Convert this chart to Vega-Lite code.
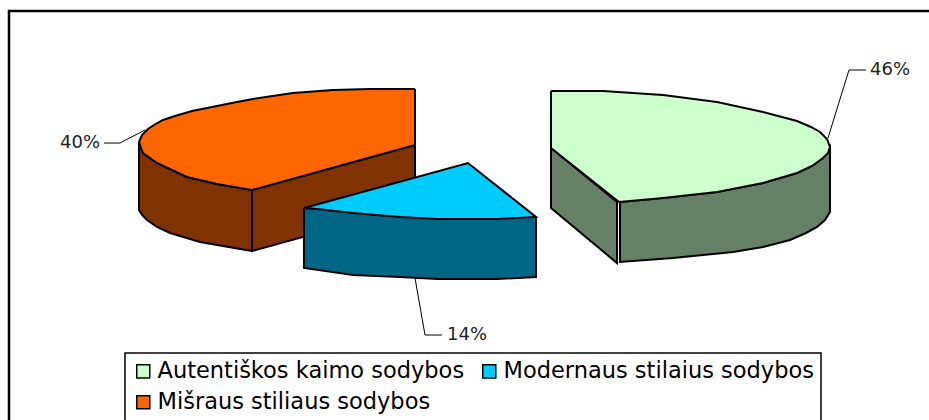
{
"$schema":"https://vega.github.io/schema/vega-lite/v6.json",
"width":929,"height":420,"padding":0,"autosize":{"type":"none"},
"background":"white",
"view":{"stroke":null},
"config":{"legend":{"strokeWidth":1.5}},
"datasets":{
"frame":[{"o":0,"px":9,"py":420},{"o":1,"px":9,"py":11},{"o":2,"px":929,"py":11}],
"sides":[
{"slice":"orange1","shade":"orange","o":0,"px":139,"py":142},{"slice":"orange1","shade":"orange","o":1,"px":139,"py":210},{"slice":"orange1","shade":"orange","o":2,"px":142,"py":215},{"slice":"orange1","shade":"orange","o":3,"px":147,"py":220},{"slice":"orange1","shade":"orange","o":4,"px":157,"py":227},{"slice":"orange1","shade":"orange","o":5,"px":170,"py":233},{"slice":"orange1","shade":"orange","o":6,"px":200,"py":242},{"slice":"orange1","shade":"orange","o":7,"px":252,"py":251},{"slice":"orange1","shade":"orange","o":8,"px":252,"py":190},{"slice":"orange1","shade":"orange","o":9,"px":217,"py":184},{"slice":"orange1","shade":"orange","o":10,"px":187,"py":177},{"slice":"orange1","shade":"orange","o":11,"px":157,"py":163},{"slice":"orange1","shade":"orange","o":12,"px":143,"py":153},{"slice":"orange1","shade":"orange","o":13,"px":139,"py":142},
{"slice":"orange2","shade":"orange","o":0,"px":252,"py":190},{"slice":"orange2","shade":"orange","o":1,"px":415,"py":145},{"slice":"orange2","shade":"orange","o":2,"px":415,"py":206},{"slice":"orange2","shade":"orange","o":3,"px":252,"py":251},{"slice":"orange2","shade":"orange","o":4,"px":252,"py":190},
{"slice":"green1","shade":"green","o":0,"px":551,"py":148},{"slice":"green1","shade":"green","o":1,"px":617,"py":202},{"slice":"green1","shade":"green","o":2,"px":617,"py":263},{"slice":"green1","shade":"green","o":3,"px":551,"py":208},{"slice":"green1","shade":"green","o":4,"px":551,"py":148},
{"slice":"green2","shade":"green","o":0,"px":620,"py":202},{"slice":"green2","shade":"green","o":1,"px":663,"py":198},{"slice":"green2","shade":"green","o":2,"px":717,"py":192},{"slice":"green2","shade":"green","o":3,"px":763,"py":183},{"slice":"green2","shade":"green","o":4,"px":797,"py":173},{"slice":"green2","shade":"green","o":5,"px":812,"py":166},{"slice":"green2","shade":"green","o":6,"px":823,"py":158},{"slice":"green2","shade":"green","o":7,"px":830,"py":147},{"slice":"green2","shade":"green","o":8,"px":830,"py":212},{"slice":"green2","shade":"green","o":9,"px":825,"py":220},{"slice":"green2","shade":"green","o":10,"px":817,"py":227},{"slice":"green2","shade":"green","o":11,"px":806,"py":233},{"slice":"green2","shade":"green","o":12,"px":790,"py":240},{"slice":"green2","shade":"green","o":13,"px":763,"py":247},{"slice":"green2","shade":"green","o":14,"px":733,"py":252},{"slice":"green2","shade":"green","o":15,"px":673,"py":258},{"slice":"green2","shade":"green","o":16,"px":620,"py":262},{"slice":"green2","shade":"green","o":17,"px":620,"py":202},
{"slice":"blue1","shade":"blue","o":0,"px":304,"py":208},{"slice":"blue1","shade":"blue","o":1,"px":304,"py":268},{"slice":"blue1","shade":"blue","o":2,"px":353,"py":275},{"slice":"blue1","shade":"blue","o":3,"px":400,"py":277},{"slice":"blue1","shade":"blue","o":4,"px":438,"py":279},{"slice":"blue1","shade":"blue","o":5,"px":497,"py":279},{"slice":"blue1","shade":"blue","o":6,"px":536,"py":277},{"slice":"blue1","shade":"blue","o":7,"px":536,"py":217},{"slice":"blue1","shade":"blue","o":8,"px":304,"py":208}
],
"tops":[
{"series":"Autentiškos kaimo sodybos","o":0,"px":551,"py":91},{"series":"Autentiškos kaimo sodybos","o":1,"px":603,"py":91},{"series":"Autentiškos kaimo sodybos","o":2,"px":663,"py":95},{"series":"Autentiškos kaimo sodybos","o":3,"px":717,"py":102},{"series":"Autentiškos kaimo sodybos","o":4,"px":763,"py":112},{"series":"Autentiškos kaimo sodybos","o":5,"px":797,"py":121},{"series":"Autentiškos kaimo sodybos","o":6,"px":811,"py":127},{"series":"Autentiškos kaimo sodybos","o":7,"px":820,"py":132},{"series":"Autentiškos kaimo sodybos","o":8,"px":827,"py":139},{"series":"Autentiškos kaimo sodybos","o":9,"px":830,"py":147},{"series":"Autentiškos kaimo sodybos","o":10,"px":828,"py":153},{"series":"Autentiškos kaimo sodybos","o":11,"px":823,"py":158},{"series":"Autentiškos kaimo sodybos","o":12,"px":812,"py":166},{"series":"Autentiškos kaimo sodybos","o":13,"px":797,"py":173},{"series":"Autentiškos kaimo sodybos","o":14,"px":763,"py":183},{"series":"Autentiškos kaimo sodybos","o":15,"px":717,"py":192},{"series":"Autentiškos kaimo sodybos","o":16,"px":663,"py":198},{"series":"Autentiškos kaimo sodybos","o":17,"px":619,"py":202},{"series":"Autentiškos kaimo sodybos","o":18,"px":551,"py":148},{"series":"Autentiškos kaimo sodybos","o":19,"px":551,"py":91},
{"series":"Modernaus stilaius sodybos","o":0,"px":304,"py":208},{"series":"Modernaus stilaius sodybos","o":1,"px":468,"py":163},{"series":"Modernaus stilaius sodybos","o":2,"px":536,"py":217},{"series":"Modernaus stilaius sodybos","o":3,"px":497,"py":219},{"series":"Modernaus stilaius sodybos","o":4,"px":438,"py":219},{"series":"Modernaus stilaius sodybos","o":5,"px":400,"py":217},{"series":"Modernaus stilaius sodybos","o":6,"px":353,"py":213},{"series":"Modernaus stilaius sodybos","o":7,"px":317,"py":209},{"series":"Modernaus stilaius sodybos","o":8,"px":304,"py":208},
{"series":"Mišraus stiliaus sodybos","o":0,"px":415,"py":89},{"series":"Mišraus stiliaus sodybos","o":1,"px":370,"py":89},{"series":"Mišraus stiliaus sodybos","o":2,"px":333,"py":90},{"series":"Mišraus stiliaus sodybos","o":3,"px":293,"py":93},{"series":"Mišraus stiliaus sodybos","o":4,"px":253,"py":99},{"series":"Mišraus stiliaus sodybos","o":5,"px":237,"py":102},{"series":"Mišraus stiliaus sodybos","o":6,"px":192,"py":111},{"series":"Mišraus stiliaus sodybos","o":7,"px":175,"py":116},{"series":"Mišraus stiliaus sodybos","o":8,"px":163,"py":120},{"series":"Mišraus stiliaus sodybos","o":9,"px":154,"py":125},{"series":"Mišraus stiliaus sodybos","o":10,"px":148,"py":129},{"series":"Mišraus stiliaus sodybos","o":11,"px":142,"py":135},{"series":"Mišraus stiliaus sodybos","o":12,"px":139,"py":142},{"series":"Mišraus stiliaus sodybos","o":13,"px":143,"py":153},{"series":"Mišraus stiliaus sodybos","o":14,"px":157,"py":163},{"series":"Mišraus stiliaus sodybos","o":15,"px":187,"py":177},{"series":"Mišraus stiliaus sodybos","o":16,"px":217,"py":184},{"series":"Mišraus stiliaus sodybos","o":17,"px":252,"py":190},{"series":"Mišraus stiliaus sodybos","o":18,"px":415,"py":145},{"series":"Mišraus stiliaus sodybos","o":19,"px":415,"py":89}
],
"leaders":[
{"k":"a","o":0,"px":828,"py":138},{"k":"a","o":1,"px":849,"py":70},{"k":"a","o":2,"px":866,"py":70},
{"k":"b","o":0,"px":145,"py":130},{"k":"b","o":1,"px":120,"py":143},{"k":"b","o":2,"px":104,"py":143},
{"k":"c","o":0,"px":415,"py":278},{"k":"c","o":1,"px":425,"py":335},{"k":"c","o":2,"px":442,"py":335}
],
"labels":[
{"t":"46%","px":870,"py":70},{"t":"40%","px":60,"py":143},{"t":"14%","px":447,"py":335}
]
},
"resolve":{"scale":{"fill":"independent"},"legend":{"fill":"independent"}},
"layer":[
{"data":{"name":"frame"},"mark":{"type":"line","stroke":"black","strokeWidth":2.5},
 "encoding":{"x":{"field":"px","type":"quantitative","scale":{"domain":[0,929]},"axis":null},
 "y":{"field":"py","type":"quantitative","scale":{"domain":[420,0]},"axis":null},
 "order":{"field":"o"}}},
{"data":{"name":"sides"},"mark":{"type":"line","stroke":"black","strokeWidth":2,"strokeJoin":"miter"},
 "encoding":{"x":{"field":"px","type":"quantitative","scale":{"domain":[0,929]},"axis":null},
 "y":{"field":"py","type":"quantitative","scale":{"domain":[420,0]},"axis":null},
 "order":{"field":"o"},"detail":{"field":"slice"},
 "fill":{"field":"shade","type":"nominal","scale":{"domain":["orange","green","blue"],"range":["#803300","#668066","#006685"]},"legend":null}}},
{"data":{"name":"tops"},"mark":{"type":"line","stroke":"black","strokeWidth":2,"strokeJoin":"miter"},
 "encoding":{"x":{"field":"px","type":"quantitative","scale":{"domain":[0,929]},"axis":null},
 "y":{"field":"py","type":"quantitative","scale":{"domain":[420,0]},"axis":null},
 "order":{"field":"o"},
 "fill":{"field":"series","type":"nominal","sort":null,
  "scale":{"domain":["Autentiškos kaimo sodybos","Mišraus stiliaus sodybos","Modernaus stilaius sodybos"],"range":["#ccffcc","#ff6600","#00ccff"]},
  "legend":{"title":null,"orient":"none","legendX":125,"legendY":353,"columns":2,"symbolType":"square","symbolSize":170,"symbolStrokeColor":"black","symbolStrokeWidth":1.5,"labelFont":"DejaVu Sans","labelFontSize":22.5,"labelColor":"black","labelLimit":400,"fillColor":"white","strokeColor":"black","padding":7,"rowPadding":8,"columnPadding":13,"labelOffset":3}}}},
{"data":{"name":"leaders"},"mark":{"type":"line","stroke":"black","strokeWidth":1},
 "encoding":{"x":{"field":"px","type":"quantitative","scale":{"domain":[0,929]},"axis":null},
 "y":{"field":"py","type":"quantitative","scale":{"domain":[420,0]},"axis":null},
 "order":{"field":"o"},"detail":{"field":"k"}}},
{"data":{"name":"labels"},"mark":{"type":"text","align":"left","baseline":"middle","font":"DejaVu Sans","fontSize":18,"color":"#222222"},
 "encoding":{"x":{"field":"px","type":"quantitative","scale":{"domain":[0,929]},"axis":null},
 "y":{"field":"py","type":"quantitative","scale":{"domain":[420,0]},"axis":null},
 "text":{"field":"t"}}}
]
}
